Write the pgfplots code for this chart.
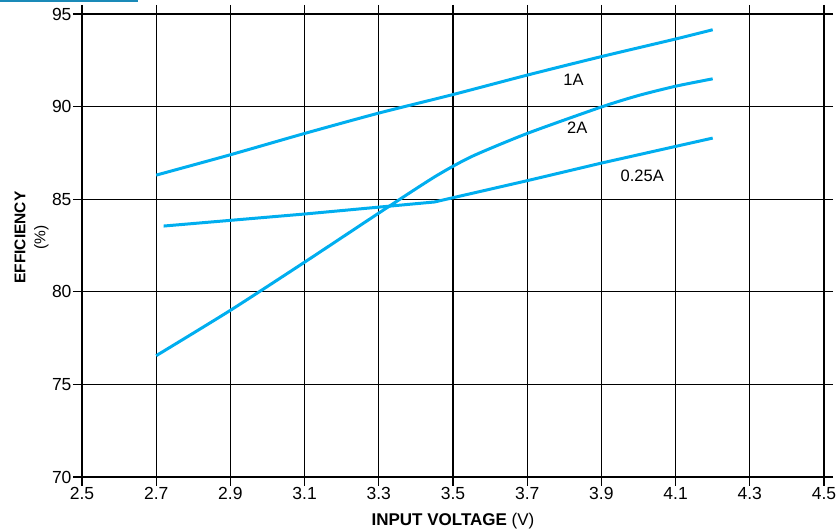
\documentclass[border=0pt]{standalone}
\usepackage{pgfplots}
\pgfplotsset{compat=1.18}
\usepackage{fontspec}
\setmainfont{Liberation Sans}
\definecolor{curve}{HTML}{00AEEF}
\definecolor{tab}{HTML}{1A8AB8}
\begin{document}
\begin{tikzpicture}[x=1pt,y=1pt]
\begin{axis}[
  scale only axis,
  width=742pt, height=463pt,
  xmin=2.5, xmax=4.5, ymin=70, ymax=95,
  xtick={2.5,2.7,...,4.5},
  ytick={70,75,...,95},
  xticklabels={2.5,2.7,2.9,3.1,3.3,3.5,3.7,3.9,4.1,4.3,4.5},
  /pgf/number format/assume math mode=true,
  grid=major,
  major grid style={black, line width=1.3pt},
  axis line style={line width=2.4pt, black},
  tick style={black, line width=1.3pt},
  tick align=outside,
  major tick length=9pt,
  tick label style={font=\fontsize{17.5}{19}\selectfont},
  xticklabel style={yshift=2pt},
  yticklabel style={xshift=2pt},
  xlabel={\textbf{INPUT VOLTAGE} (V)},
  ylabel={\textbf{EFFICIENCY}\\(\%)},
  xlabel style={font=\fontsize{17}{19}\selectfont, at={(axis description cs:0.5,-0.095)}, anchor=center},
  ylabel style={font=\fontsize{15.5}{20}\selectfont, align=center, at={(axis description cs:-0.0680,0.517)}, anchor=center},
  clip=false,
]
\addplot[curve, line width=3pt, smooth, tension=0.4] coordinates {
  (2.7,86.3) (2.9,87.4) (3.1,88.55) (3.3,89.65) (3.5,90.65) (3.7,91.7) (3.9,92.7) (4.1,93.65) (4.2,94.15)
};
\addplot[curve, line width=3pt, smooth, tension=0.4] coordinates {
  (2.7,76.55) (2.9,79.0) (3.1,81.6) (3.3,84.25) (3.45,86.2) (3.55,87.3) (3.7,88.55) (3.9,89.98) (4.0,90.6) (4.1,91.1) (4.2,91.5)
};
\addplot[curve, line width=3pt] coordinates {
  (2.72,83.55) (3.1,84.2) (3.45,84.85) (3.7,86.0) (3.9,86.95) (4.2,88.3)
};
\node[font=\fontsize{16.5}{18}\selectfont] at (axis cs:3.825,91.45) {1A};
\node[font=\fontsize{16.5}{18}\selectfont] at (axis cs:3.835,88.85) {2A};
\node[font=\fontsize{16.5}{18}\selectfont] at (axis cs:4.01,86.25) {0.25A};
\end{axis}
\pgfresetboundingbox
\path ([xshift=-82pt,yshift=-55pt]current axis.south west) rectangle ([xshift=14pt,yshift=14pt]current axis.north east);
\fill[tab] ([xshift=-82pt,yshift=14pt]current axis.north west) rectangle ([xshift=56pt,yshift=12pt]current axis.north west);
\end{tikzpicture}
\end{document}
